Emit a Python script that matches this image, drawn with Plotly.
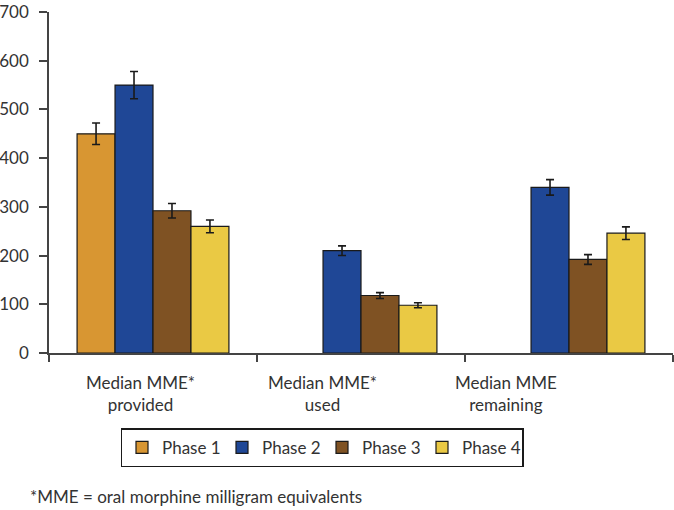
import plotly.graph_objects as go

categories = ["Median MME* provided", "Median MME* used", "Median MME remaining"]
category_labels = ["Median MME*<br>provided", "Median MME*<br>used", "Median MME<br>remaining"]
phases = ["Phase 1", "Phase 2", "Phase 3", "Phase 4"]
phase1 = [450, None, None]
phase2 = [550, 210, 340]
phase3 = [292, 118, 192]
phase4 = [260, 98, 246]
phase1_err = [22, 0, 0]
phase2_err = [28, 10, 16]
phase3_err = [15, 6, 10]
phase4_err = [13, 5, 13]
colors = ["#D89632", "#1F4796", "#7F5223", "#EAC944"]
footnote = "*MME = oral morphine milligram equivalents"

FONT = "Lato"
TXT = "#333333"

fig = go.Figure()
for name, vals, errs, col in zip(phases, [phase1, phase2, phase3, phase4],
                                 [phase1_err, phase2_err, phase3_err, phase4_err], colors):
    fig.add_trace(go.Bar(
        x=categories, y=vals, name=name,
        marker=dict(color=col, line=dict(color="#1a1a1a", width=1.2)),
        error_y=dict(type="data", array=errs, visible=True, color="#1a1a1a", thickness=1.6, width=4),
    ))

L, R, T, B = 49, 1, 12, 157
fig.update_layout(
    width=674, height=510,
    margin=dict(l=L, r=R, t=T, b=B, pad=0, autoexpand=False),
    paper_bgcolor="white", plot_bgcolor="white",
    barmode="group", bargap=0.27, bargroupgap=0,
    font=dict(family=FONT, size=17, color=TXT),
    showlegend=True,
    legend=dict(
        orientation="h", x=0.4375, xanchor="center", y=-0.221, yanchor="top",
        bordercolor="#1a1a1a", borderwidth=1.5, bgcolor="white",
        font=dict(family=FONT, size=17, color=TXT),
        entrywidth=55, entrywidthmode="pixels", traceorder="normal",
        itemclick=False,
    ),
    xaxis=dict(
        type="category", showticklabels=False, ticks="outside", tickson="boundaries",
        ticklen=7, tickwidth=1.5, tickcolor="#444444", automargin=False,
        showline=True, linecolor="#444444", linewidth=1.5, showgrid=False, zeroline=False,
    ),
    yaxis=dict(
        range=[0, 700], dtick=100, tick0=0, ticks="outside", ticklen=8, tickwidth=1.5,
        tickcolor="#444444", showline=True, linecolor="#444444", linewidth=1.5,
        showgrid=False, zeroline=False, ticklabelstandoff=7, automargin=False,
        tickfont=dict(family=FONT, size=17, color=TXT),
    ),
)

# extension of y-axis line below zero
fig.add_shape(type="line", xref="paper", yref="paper", x0=0, x1=0, y0=0, y1=-0.022,
              line=dict(color="#444444", width=1.5))

label_x = [0.1474, 0.439, 0.732]
for lx, lab in zip(label_x, category_labels):
    fig.add_annotation(x=lx, y=-0.05, xref="paper", yref="paper", text=lab,
                       showarrow=False, xanchor="center", yanchor="top",
                       font=dict(family=FONT, size=17, color=TXT))

fig.add_annotation(x=-0.0337, y=-0.422, xref="paper", yref="paper", text=footnote,
                   showarrow=False, xanchor="left", yanchor="middle",
                   font=dict(family=FONT, size=17, color=TXT))

fig.write_html("out.html", config={"displayModeBar": False},
               post_script="document.body.style.margin='0';document.body.style.overflow='hidden';")
